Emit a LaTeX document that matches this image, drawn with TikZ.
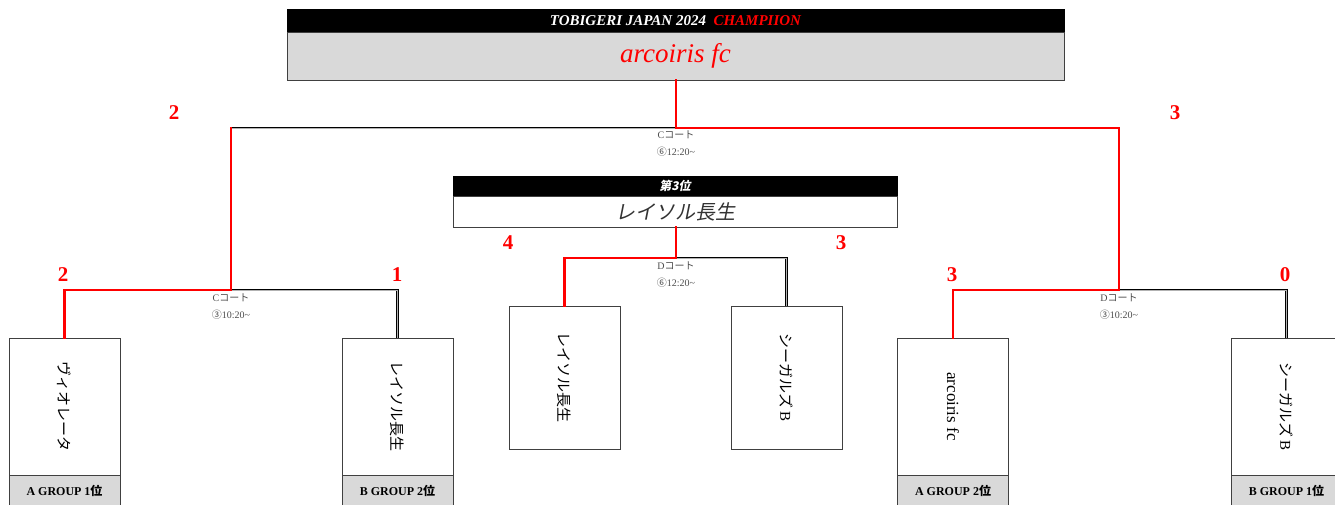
\documentclass[tikz,border=0pt]{standalone}
\usepackage{fontspec}
\setmainfont{Liberation Serif}
\newfontfamily\jp{Noto Sans CJK JP}
\newfontfamily\jpit[FakeSlant=0.2]{Noto Sans CJK JP}
\usetikzlibrary{positioning}
\tikzset{
every picture/.style={x=1pt, y=-1pt},
%%%%%%%%%%  boxes
teambox/.style={draw=black!75, fill=white, line width=0.8pt, minimum width=111pt,
                minimum height=137pt, inner sep=0, outer sep=0},
thirdbox/.style={teambox, minimum height=143pt},
groupbox/.style={draw=black!75, fill=black!15, line width=0.8pt, minimum width=111pt,
                 minimum height=31pt, inner sep=0, outer sep=0,
                 font=\fontsize{12}{12}\selectfont\bfseries},
teamname/.style={rotate=-90, inner sep=0, font=\fontsize{15}{15}\selectfont},
headbar/.style={fill=black, draw=black, inner sep=0, outer sep=0, text=white},
%%%%%%%%%%  lines
winline/.style={draw=red, line width=2.2pt, line cap=rect},
loseline/.style={draw=black, double=black!30, double distance=1pt, line width=0.7pt},
%%%%%%%%%%  texts
score/.style={text=red, font=\fontsize{21}{21}\selectfont\bfseries},
court/.style={text=black!70, align=center, font=\fontsize{10}{17}\selectfont}
}
\begin{document}
\begin{tikzpicture}
\useasboundingbox (0,0) rectangle (1335,504);
%% champion
\node[headbar, minimum width=777pt, minimum height=23pt] (champhead) at (675.5,20.5)
  {\fontsize{15}{15}\selectfont\bfseries\itshape TOBIGERI JAPAN 2024\ \ \textcolor{red}{CHAMPIION}};
\node[draw=black!75, fill=black!15, line width=0.8pt, minimum width=777pt, minimum height=48pt,
  inner sep=0, outer sep=0, below=0pt of champhead] (champ)
  {\fontsize{27}{27}\selectfont\itshape\color{red}arcoiris fc};
%% third place
\node[headbar, minimum width=444pt, minimum height=20pt] (thirdhead) at (675,186)
  {\fontsize{12}{12}\selectfont\jpit\bfseries 第3位};
\node[draw=black!75, fill=white, line width=0.8pt, minimum width=444pt, minimum height=31pt,
  inner sep=0, outer sep=0, below=0pt of thirdhead] (third)
  {\fontsize{20}{20}\selectfont\jpit\color{black!80}レイソル長生};
%% teams
\node[teambox] (t1) at (64.5,406.5) {};
\node[teambox] (t2) at (397.5,406.5) {};
\node[teambox] (t5) at (953,406.5) {};
\node[teambox] (t6) at (1286.5,406.5) {};
\node[thirdbox] (t3) at (564.5,377.5) {};
\node[thirdbox] (t4) at (786.5,377.5) {};
\node[teamname] (n1) at (t1.center) {\jp ヴィオレータ};
\node[teamname] (n2) at (t2.center) {\jp レイソル長生};
\node[teamname, font=\fontsize{17}{17}\selectfont] (n5) at (t5.center) {arcoiris fc};
\node[teamname] (n6) at (t6.center) {{\jp シーガルズ} B};
\node[teamname] (n3) at (t3.center) {\jp レイソル長生};
\node[teamname] (n4) at (t4.center) {{\jp シーガルズ} B};
\node[groupbox, below=0pt of t1] (g1) {A GROUP 1{\jp 位}};
\node[groupbox, below=0pt of t2] (g2) {B GROUP 2{\jp 位}};
\node[groupbox, below=0pt of t5] (g5) {A GROUP 2{\jp 位}};
\node[groupbox, below=0pt of t6] (g6) {B GROUP 1{\jp 位}};
%% junctions
\coordinate (fin) at (676,128);
\coordinate (sl) at (231,290);
\coordinate (sr) at (1119,290);
\coordinate (thd) at (676,258);
%% final
\draw[loseline] (fin) -- (sl |- fin);
\draw[winline] (sl |- fin) -- (sl);
\draw[winline] (champ.south -| fin) -- (fin) -- (sr |- fin) -- (sr);
%% semi finals
\draw[loseline] (sl) -- (t2.north |- sl) -- (t2.north);
\draw[winline] (sl) -- (t1.north |- sl) -- (t1.north);
\draw[loseline] (sr) -- (t6.north |- sr) -- (t6.north);
\draw[winline] (sr) -- (t5.north |- sr) -- (t5.north);
%% third place match
\draw[loseline] (thd) -- (t4.north |- thd) -- (t4.north);
\draw[winline] (third.south -| thd) -- (thd) -- (t3.north |- thd) -- (t3.north);
%% scores
\node[score] (s0l) at (174,113) {2};
\node[score] (s0r) at (1175,113) {3};
\node[score] (s1) at (63,275) {2};
\node[score] (s2) at (397,275) {1};
\node[score] (s5) at (952,275) {3};
\node[score] (s6) at (1285,275) {0};
\node[score] (s3) at (508,243) {4};
\node[score] (s4) at (841,243) {3};
%% courts
\node[court] (cf) at (676,143.5) {C{\jp コート}\\{\jp ⑥}12:20\textasciitilde};
\node[court] (cl) at (231,306.5) {C{\jp コート}\\{\jp ③}10:20\textasciitilde};
\node[court] (cr) at (1119,306.5) {D{\jp コート}\\{\jp ③}10:20\textasciitilde};
\node[court] (ct) at (676,275) {D{\jp コート}\\{\jp ⑥}12:20\textasciitilde};
\end{tikzpicture}
\end{document}
